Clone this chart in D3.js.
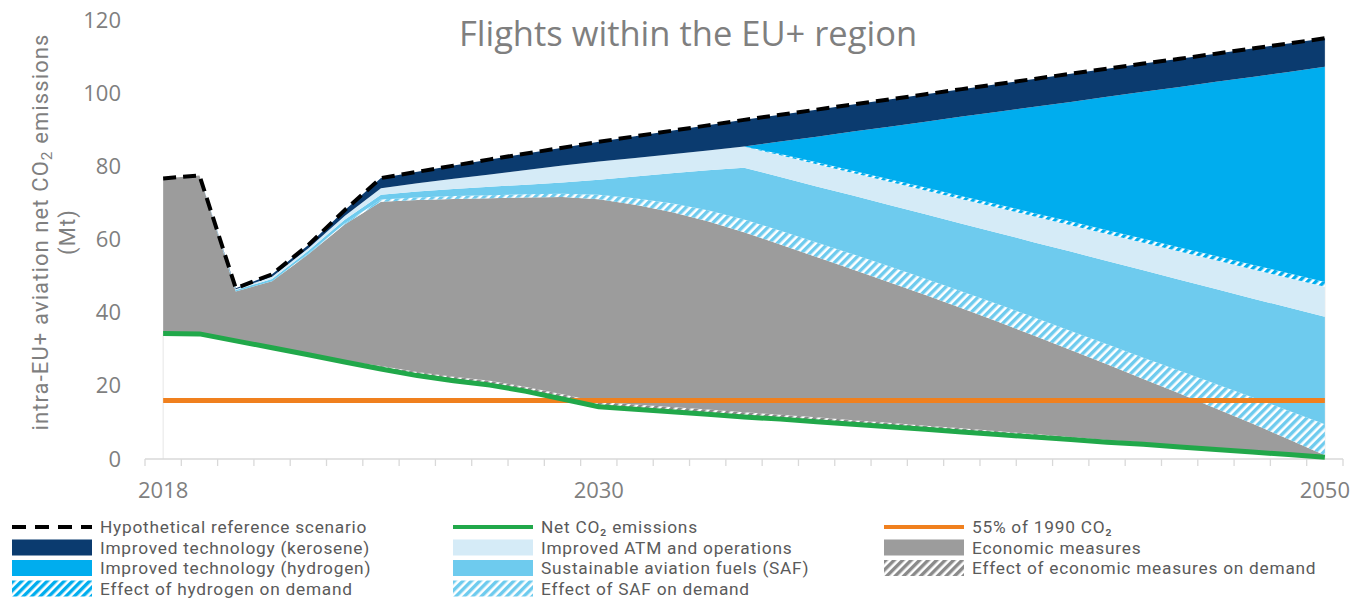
<!DOCTYPE html>
<html>
<head>
<meta charset="utf-8">
<script src="https://cdn.jsdelivr.net/npm/d3@7"></script>
<style>
  body { margin: 0; background: #fff; }
  text { font-family: "Open Sans", sans-serif; }
</style>
</head>
<body>
<div id="chart"></div>
<script>
// --- data (Mt CO2) ---
const years = [2018, 2019, 2020, 2021, 2022, 2023, 2024, 2025, 2026, 2027, 2028,
  2029, 2030, 2031, 2032, 2033, 2034, 2035, 2036, 2037, 2038, 2039, 2040,
  2041, 2042, 2043, 2044, 2045, 2046, 2047, 2048, 2049, 2050];
const xLabels = [2018, 2030, 2050];
const yTicks = [0, 20, 40, 60, 80, 100, 120];

const netEmissions = [34.3, 34.2, 32.3, 30.4, 28.5, 26.5, 24.6, 22.8, 21.4, 20.2, 18.5,
  16.4, 14.3, 13.6, 12.9, 12.2, 11.5, 10.9, 10.2, 9.5, 8.8, 8.1, 7.4,
  6.7, 6.0, 5.3, 4.6, 4.0, 3.3, 2.6, 1.9, 1.2, 0.5];
const econDemand = [0, 0, 0, 0, 0, 0.3, 0.8, 1.0, 1.1, 1.2, 1.2,
  1.3, 1.3, 1.3, 1.3, 1.3, 1.3, 1.2, 1.2, 1.1, 1.1, 1.0, 1.0,
  0.9, 0.8, 0.7, 0.6, 0.5, 0.4, 0.3, 0.2, 0.1, 0];
const economic = [42.4, 43.3, 13.5, 18.2, 27.5, 37.3, 44.9, 47.0, 48.6, 49.9, 51.8,
  53.9, 55.4, 54.6, 53.3, 51.5, 49.2, 46.5, 43.8, 41.2, 38.4, 35.7, 32.8,
  29.9, 26.9, 23.8, 20.7, 17.4, 14.2, 10.9, 7.6, 4.1, 0.5];
const safDemand = [0, 0, 0, 0, 0.2, 0.3, 0.6, 0.7, 0.8, 0.8, 0.9,
  0.9, 1.2, 1.8, 2.4, 3.0, 3.5, 3.8, 4.0, 4.2, 4.4, 4.5, 4.6,
  4.8, 5.0, 5.2, 5.5, 5.8, 6.2, 6.7, 7.2, 7.8, 8.5];
const saf = [0, 0, 0.4, 0.6, 0.7, 1.0, 1.3, 1.6, 1.9, 2.3, 2.6,
  3.1, 4.1, 5.9, 8.2, 10.9, 14.1, 14.7, 15.3, 16.0, 16.7, 17.6, 18.5,
  19.5, 20.5, 21.7, 22.7, 23.9, 24.9, 26.0, 27.0, 28.2, 29.4];
const atm = [0, 0, 0.2, 0.6, 0.7, 1.0, 1.8, 2.3, 2.8, 3.4, 4.0,
  4.6, 5.0, 5.1, 5.2, 5.4, 5.8, 5.9, 6.1, 6.2, 6.4, 6.5, 6.7,
  6.9, 7.1, 7.2, 7.4, 7.5, 7.7, 7.8, 8.0, 8.1, 8.2];
const h2Demand = [0, 0, 0, 0, 0, 0, 0, 0, 0, 0, 0,
  0, 0, 0, 0, 0, 0, 0.4, 0.5, 0.6, 0.7, 0.8, 0.8,
  0.9, 0.9, 1.0, 1.0, 1.1, 1.1, 1.2, 1.2, 1.3, 1.3];
const hydrogen = [0, 0, 0, 0, 0, 0, 0, 0, 0, 0, 0,
  0, 0, 0, 0, 0, 0, 3.4, 7.0, 10.7, 14.3, 18.0, 21.8,
  25.3, 29.1, 32.7, 36.5, 40.2, 43.9, 47.6, 51.3, 55.0, 58.8];
const kerosene = [0, 0, 0.3, 0.7, 0.9, 1.6, 2.8, 3.1, 3.6, 4.1, 4.5,
  4.9, 5.4, 5.9, 6.4, 6.9, 7.3, 7.3, 7.4, 7.4, 7.5, 7.5, 7.5,
  7.6, 7.6, 7.7, 7.7, 7.7, 7.7, 7.7, 7.8, 7.8, 7.8];
const referenceScenario = [76.7, 77.5, 46.7, 50.5, 58.5, 68.0, 76.8, 78.5, 80.2, 81.9, 83.5,
  85.1, 86.7, 88.2, 89.7, 91.2, 92.7, 94.1, 95.5, 96.9, 98.3, 99.7, 101.1,
  102.5, 103.9, 105.3, 106.7, 108.1, 109.4, 110.8, 112.2, 113.6, 115.0];
const target1990 = 16.0; // 55% of 1990 CO2

// --- formatting ---
const width = 1362;
const height = 600;
const axisGrey = "#7f7f7f";
const legendGrey = "#5a5a5a";
const tightFont = "Roboto, sans-serif"; // smaller line box, for stacked rows of text

const colors = {
  econDemand: "#8a8a8a",
  economic: "#9c9c9c",
  safDemand: "#6ecbee",
  saf: "#6ecbee",
  atm: "#d5ebf7",
  h2Demand: "#00adee",
  hydrogen: "#00adee",
  kerosene: "#0b3b6f",
};
const netColor = "#21a84a";
const targetColor = "#f0801e";

const keys = ["net", "econDemand", "economic", "safDemand", "saf", "atm", "h2Demand", "hydrogen", "kerosene"];
const table = years.map((yr, i) => ({
  year: yr,
  net: netEmissions[i],
  econDemand: econDemand[i],
  economic: economic[i],
  safDemand: safDemand[i],
  saf: saf[i],
  atm: atm[i],
  h2Demand: h2Demand[i],
  hydrogen: hydrogen[i],
  kerosene: kerosene[i],
}));

const svg = d3.select("#chart").append("svg")
  .attr("width", width)
  .attr("height", height);

const defs = svg.append("defs");
function hatch(id, color) {
  const p = defs.append("pattern")
    .attr("id", id)
    .attr("patternUnits", "userSpaceOnUse")
    .attr("width", 6)
    .attr("height", 6)
    .attr("patternTransform", "rotate(45)");
  p.append("rect").attr("width", 6).attr("height", 6).attr("fill", "#fff");
  p.append("rect").attr("width", 3.4).attr("height", 6).attr("fill", color);
}
hatch("hatchEcon", colors.econDemand);
hatch("hatchSaf", colors.safDemand);
hatch("hatchH2", colors.h2Demand);

const fills = {
  net: "none",
  econDemand: "url(#hatchEcon)",
  economic: colors.economic,
  safDemand: "url(#hatchSaf)",
  saf: colors.saf,
  atm: colors.atm,
  h2Demand: "url(#hatchH2)",
  hydrogen: colors.hydrogen,
  kerosene: colors.kerosene,
};

//scales
const x = d3.scaleBand().domain(years).range([145, 1343]).padding(0);
const xc = (yr) => x(yr) + x.bandwidth() / 2;
const y = d3.scaleLinear().domain([0, 120]).range([459, 20]);

// faint edges of the plotted data
svg.append("line")
  .attr("x1", xc(years[0])).attr("x2", xc(years[0]))
  .attr("y1", y(0)).attr("y2", y(netEmissions[0]))
  .attr("stroke", "#e6e6e6").attr("stroke-width", 1);
svg.append("line")
  .attr("x1", xc(years[years.length - 1])).attr("x2", xc(years[years.length - 1]))
  .attr("y1", y(0)).attr("y2", y(referenceScenario[referenceScenario.length - 1]))
  .attr("stroke", "#e6e6e6").attr("stroke-width", 1);

//stacked areas
const series = d3.stack().keys(keys)(table);
const area = d3.area()
  .x((d) => xc(d.data.year))
  .y0((d) => y(d[0]))
  .y1((d) => y(d[1]));

svg.append("g")
  .selectAll("path")
  .data(series)
  .enter()
  .append("path")
  .attr("fill", (d) => fills[d.key])
  .attr("d", area);

//x-axis line and ticks at category boundaries
const xAxisG = svg.append("g").attr("transform", "translate(0," + y(0) + ")");
xAxisG.append("line")
  .attr("x1", x.range()[0]).attr("x2", x.range()[1])
  .attr("stroke", "#d9d9d9").attr("stroke-width", 1.3);
xAxisG.selectAll(".bound")
  .data(years.map((yr) => x(yr)).concat([x.range()[1]]))
  .enter()
  .append("line")
  .attr("x1", (d) => d).attr("x2", (d) => d)
  .attr("y1", 0).attr("y2", 7)
  .attr("stroke", "#d9d9d9").attr("stroke-width", 1.3);

const xaxis = d3.axisBottom(x).tickValues(xLabels).tickSize(0).tickPadding(23);
svg.append("g")
  .attr("transform", "translate(0," + y(0) + ")")
  .call(xaxis)
  .call((g) => g.select(".domain").remove())
  .selectAll("text")
  .style("font-size", "22px")
  .style("font-family", '"Open Sans", sans-serif')
  .attr("fill", axisGrey);

//y-axis labels
const yaxis = d3.axisLeft(y).tickValues(yTicks).tickSize(0).tickPadding(0);
svg.append("g")
  .attr("transform", "translate(121,0)")
  .call(yaxis)
  .call((g) => g.select(".domain").remove())
  .selectAll("text")
  .style("font-size", "22px")
  .style("font-family", '"Open Sans", sans-serif')
  .attr("fill", axisGrey);

//lines
const line = d3.line()
  .x((d, i) => xc(years[i]))
  .y((d) => y(d));

svg.append("line")
  .attr("x1", xc(years[0])).attr("x2", xc(years[years.length - 1]))
  .attr("y1", y(target1990)).attr("y2", y(target1990))
  .attr("stroke", targetColor).attr("stroke-width", 5);

svg.append("path")
  .datum(netEmissions)
  .attr("fill", "none")
  .attr("stroke", netColor)
  .attr("stroke-width", 5)
  .attr("stroke-linejoin", "round")
  .attr("d", line);

svg.append("path")
  .datum(referenceScenario)
  .attr("fill", "none")
  .attr("stroke", "#000")
  .attr("stroke-width", 4)
  .attr("stroke-dasharray", "13,7")
  .attr("d", line);

// text helper: CO₂ with a small lowered 2
function addLabel(sel, str) {
  const parts = str.split("₂");
  sel.append("tspan").text(parts[0]);
  if (parts.length > 1) {
    sel.append("tspan").attr("font-size", "0.7em").attr("dy", "0.25em").text("2");
    sel.append("tspan").attr("dy", "-0.18em").text(parts[1]);
  }
}

// title
svg.append("text")
  .attr("x", 688)
  .attr("y", 46)
  .attr("text-anchor", "middle")
  .attr("fill", axisGrey)
  .style("font-size", "34.5px")
  .text("Flights within the EU+ region");

// y-axis title (two lines)
const yTitle = svg.append("g").attr("transform", "translate(0,232) rotate(-90)");
yTitle.append("text")
  .attr("x", 0).attr("y", 48)
  .attr("text-anchor", "middle")
  .attr("fill", axisGrey)
  .style("font-family", tightFont)
  .style("font-size", "22px")
  .style("letter-spacing", "1.1px")
  .call(addLabel, "intra-EU+ aviation net CO₂ emissions");
yTitle.append("text")
  .attr("x", 0).attr("y", 74.5)
  .attr("text-anchor", "middle")
  .attr("fill", axisGrey)
  .style("font-family", tightFont)
  .style("font-size", "22px")
  .style("letter-spacing", "1.1px")
  .text("(Mt)");

// legend
const legendItems = [
  { label: "Hypothetical reference scenario", type: "dash", color: "#000", col: 0, row: 0 },
  { label: "Improved technology (kerosene)", type: "rect", color: colors.kerosene, col: 0, row: 1 },
  { label: "Improved technology (hydrogen)", type: "rect", color: colors.hydrogen, col: 0, row: 2 },
  { label: "Effect of hydrogen on demand", type: "rect", color: "url(#hatchH2)", col: 0, row: 3 },
  { label: "Net CO₂ emissions", type: "line", color: netColor, col: 1, row: 0 },
  { label: "Improved ATM and operations", type: "rect", color: colors.atm, col: 1, row: 1 },
  { label: "Sustainable aviation fuels (SAF)", type: "rect", color: colors.saf, col: 1, row: 2 },
  { label: "Effect of SAF on demand", type: "rect", color: "url(#hatchSaf)", col: 1, row: 3 },
  { label: "55% of 1990 CO₂", type: "line", color: targetColor, col: 2, row: 0 },
  { label: "Economic measures", type: "rect", color: colors.economic, col: 2, row: 1 },
  { label: "Effect of economic measures on demand", type: "rect", color: "url(#hatchEcon)", col: 2, row: 2 },
];
const colX = [12, 453, 884];
const rowY = [527, 547.5, 568, 588.5];
const swatchW = 80;

const legend = svg.append("g");
legendItems.forEach((it) => {
  const g = legend.append("g")
    .attr("transform", "translate(" + colX[it.col] + "," + rowY[it.row] + ")");
  if (it.type === "rect") {
    g.append("rect").attr("x", 0).attr("y", -8).attr("width", swatchW).attr("height", 16).attr("fill", it.color);
  } else {
    g.append("line").attr("x1", 0).attr("x2", swatchW).attr("y1", 0).attr("y2", 0)
      .attr("stroke", it.color).attr("stroke-width", 4)
      .attr("stroke-dasharray", it.type === "dash" ? "14,9" : null);
  }
  g.append("text")
    .attr("x", swatchW + 8)
    .attr("y", 6)
    .attr("fill", legendGrey)
    .style("font-family", tightFont)
    .style("font-size", "17.3px")
    .style("letter-spacing", "0.75px")
    .text(it.label);
});
</script>
</body>
</html>
